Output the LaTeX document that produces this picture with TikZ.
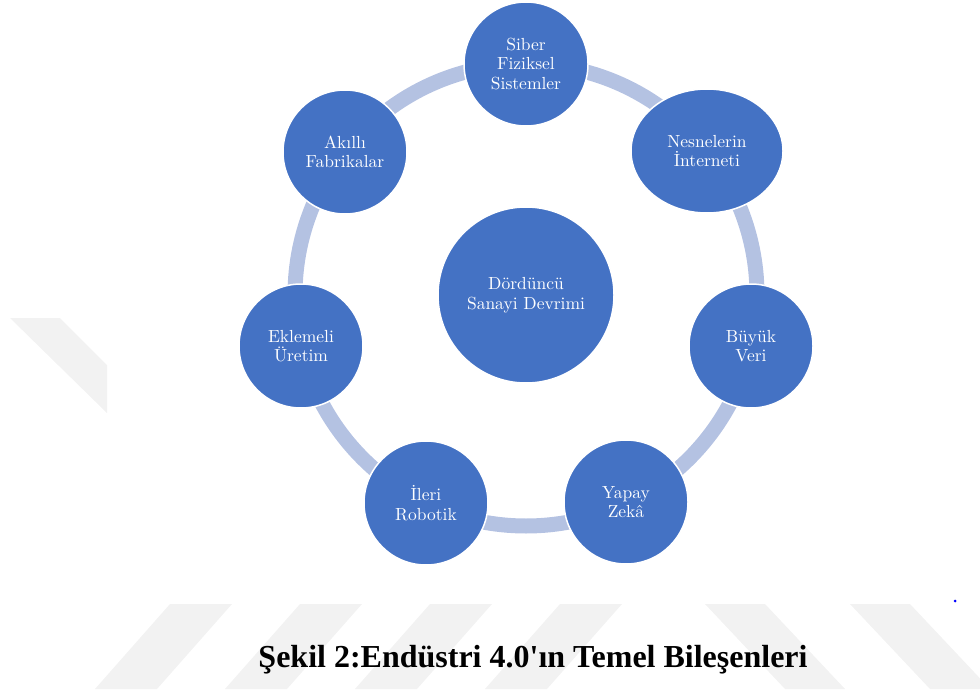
\documentclass[tikz,border=0pt]{standalone}
\usepackage{fontspec}
\newfontfamily\capfont[Ligatures=TeXOff]{Liberation Serif}
\newfontfamily\nodefont{lmroman10-regular.otf}
\usetikzlibrary{shapes.geometric}
\definecolor{nodeblue}{HTML}{4472C4}
\definecolor{ringblue}{HTML}{B4C2E2}
\definecolor{markgray}{HTML}{F2F2F2}
\begin{document}
\begin{tikzpicture}[x=1pt,y=-1pt,
  topic/.style={circle, fill=nodeblue, draw=white, line width=1.5pt,
    minimum size=124pt, inner sep=0pt, align=center, text=white,
    font=\nodefont\fontsize{17.5}{19.5}\selectfont},
  hub/.style={topic, minimum size=176pt},
  wide/.style={topic, ellipse, minimum width=152pt, minimum height=124pt},
  stripe/.style={fill=markgray}]
\useasboundingbox (0,0) rectangle (980,693);

% background stripes
\fill[stripe] (10,318) -- (60,318) -- (107,365) -- (107,413) -- cycle;
\foreach \x in {170,300,430,560}
  \fill[stripe] (\x,604) -- (\x+62,604) -- (\x-13,689) -- (\x-75,689) -- cycle;
\foreach \x in {705,850}
  \fill[stripe] (\x,604) -- (\x+60,604) -- (\x+140,689) -- (\x+80,689) -- cycle;

% connecting ring
\coordinate (ringc) at (526,295);
\draw[ringblue, line width=15pt] (ringc) circle[radius=231];

% nodes
\node[hub]   (hub)   at (526,295)   {Dördüncü\\Sanayi Devrimi};
\node[topic] (cps)   at (526,64)    {Siber\\Fiziksel\\Sistemler};
\node[wide]  (iot)   at (707,151)   {Nesnelerin\\İnterneti};
\node[topic] (big)   at (751,346)   {Büyük\\Veri};
\node[topic] (ai)    at (626,502)   {Yapay\\Zekâ};
\node[topic] (robot) at (426,503)   {İleri\\Robotik};
\node[topic] (add)   at (301,346)   {Eklemeli\\Üretim};
\node[topic] (smart) at (345,152)   {Akıllı\\Fabrikalar};

% caption
\node[font=\capfont\bfseries\fontsize{32}{36}\selectfont, anchor=base]
  (caption) at (533,667) {Şekil 2:Endüstri 4.0'ın Temel Bileşenleri};

\fill[blue] (955,601) circle[radius=1.5];
\end{tikzpicture}
\end{document}
